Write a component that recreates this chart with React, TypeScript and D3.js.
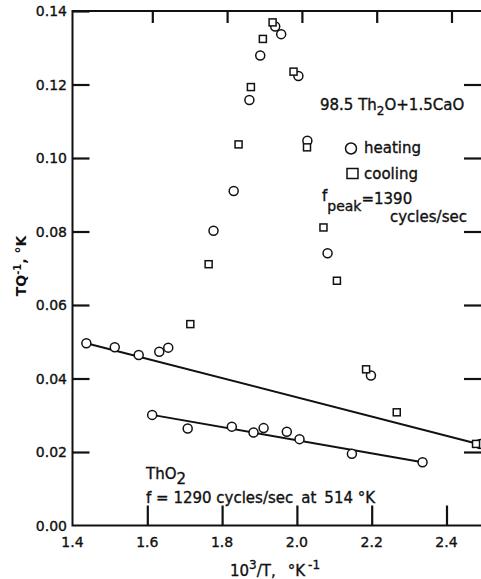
import { useEffect, useRef } from 'react'
import * as d3 from 'd3'

// 98.5 ThO2 + 1.5 CaO, heating (circles)
const heatingX = [1.437, 1.513, 1.577, 1.632, 1.656, 1.777, 1.831, 1.873, 1.902, 1.942, 1.958, 2.004, 2.028, 2.082, 2.198, 2.49]
const heatingY = [0.0496, 0.0485, 0.0464, 0.0473, 0.0484, 0.0802, 0.091, 0.1158, 0.1279, 0.1358, 0.1337, 0.1223, 0.1047, 0.0741, 0.0408, 0.0222]

// 98.5 ThO2 + 1.5 CaO, cooling (squares)
const coolingX = [1.715, 1.764, 1.844, 1.877, 1.909, 1.935, 1.991, 2.027, 2.071, 2.107, 2.185, 2.267, 2.479]
const coolingY = [0.0548, 0.0711, 0.1037, 0.1193, 0.1324, 0.1369, 0.1235, 0.1029, 0.0811, 0.0666, 0.0425, 0.0308, 0.0222]

// pure ThO2 (circles)
const thoX = [1.613, 1.708, 1.826, 1.884, 1.911, 1.973, 2.007, 2.147, 2.336]
const thoY = [0.0301, 0.0264, 0.0269, 0.0253, 0.0265, 0.0255, 0.0235, 0.0195, 0.0172]

// background lines (end points)
const upperLineX = [1.437, 2.485]
const upperLineY = [0.0496, 0.0222]
const lowerLineX = [1.613, 2.336]
const lowerLineY = [0.0301, 0.0172]

const xTicks = [1.4, 1.6, 1.8, 2.0, 2.2, 2.4]
const yTicks = [0, 0.02, 0.04, 0.06, 0.08, 0.1, 0.12, 0.14]

export default function App() {
  const svgRef = useRef<SVGSVGElement>(null)

  useEffect(() => {
    if (!svgRef.current) return
    const width = 481
    const height = 579
    const font = "'DejaVu Sans', sans-serif"
    const ink = '#111'

    const svg = d3.select(svgRef.current)
    svg.selectAll('*').remove()
    svg.attr('width', width).attr('height', height)

    const x = d3.scaleLinear().domain([1.4, 2.5]).range([72.5, 72.5 + 1.1 * 374])
    const y = d3.scaleLinear().domain([0, 0.14]).range([525.5, 11])
    const [x0, x1] = x.range()
    const [y0, y1] = y.range()

    // frame
    svg.append('path')
      .attr('d', `M${x1},${y1}H${x0}V${y0}H${x1}`)
      .attr('fill', 'none').attr('stroke', ink).attr('stroke-width', 2)

    // ticks drawn with d3 axes (inward, no labels)
    svg.append('g').attr('transform', `translate(0,${y0})`)
      .call(d3.axisTop(x).tickValues(xTicks.slice(1)).tickSize(20).tickFormat(() => ''))
    svg.append('g').attr('transform', `translate(5,${y1})`)
      .call(d3.axisBottom(x).tickValues(xTicks.slice(1)).tickSize(12).tickFormat(() => ''))
    svg.append('g').attr('transform', `translate(${x0},0)`)
      .call(d3.axisRight(y).tickValues(yTicks.slice(1)).tickSize(17).tickFormat(() => ''))
    svg.append('g').attr('transform', `translate(${width},0)`)
      .call(d3.axisLeft(y).tickValues(yTicks.slice(1, -1)).tickSize(17).tickFormat(() => ''))
    svg.selectAll('.domain').remove()
    svg.selectAll('.tick line').attr('stroke', ink).attr('stroke-width', 2.2)

    const textStyle = (sel: d3.Selection<SVGTextElement, any, any, any>, size: number) =>
      sel.style('font-family', font).style('font-size', `${size}px`)
        .style('fill', ink).style('stroke', ink).style('stroke-width', 0.35)

    // tick labels
    svg.selectAll('.ylab').data(yTicks).enter().append('text')
      .attr('x', 67).attr('y', d => y(d) + 5)
      .attr('text-anchor', 'end')
      .call(s => textStyle(s, 14))
      .text(d => d3.format('.2f')(d))
    svg.selectAll('.xlab').data(xTicks).enter().append('text')
      .attr('x', d => x(d)).attr('y', 547)
      .attr('text-anchor', 'middle')
      .call(s => textStyle(s, 14))
      .text(d => d3.format('.1f')(d))

    // axis titles
    const yt = svg.append('text')
      .attr('transform', 'translate(26,266) rotate(-90)')
      .attr('text-anchor', 'middle')
      .style('font-family', font).style('font-size', '14px').style('font-weight', 'bold').style('fill', ink)
    yt.append('tspan').text('TQ')
    yt.append('tspan').attr('dy', -5).style('font-size', '10px').text('-1')
    yt.append('tspan').attr('dy', 5).text(', °K')

    const xt = svg.append('text')
      .attr('x', 275).attr('y', 576)
      .attr('text-anchor', 'middle')
      .call(s => textStyle(s, 15))
    xt.append('tspan').text('10')
    xt.append('tspan').attr('dy', -7).style('font-size', '12px').text('3')
    xt.append('tspan').attr('dy', 7).text('/T,')
    xt.append('tspan').attr('dx', 12).text('°K')
    xt.append('tspan').attr('dx', 3).attr('dy', -7).style('font-size', '12px').text('-1')

    // lines
    const drawLine = (xs: number[], ys: number[]) => {
      svg.append('path')
        .attr('d', d3.line<number>().x(d => x(xs[d])).y(d => y(ys[d]))(xs.map((_, i) => i)))
        .attr('fill', 'none').attr('stroke', ink).attr('stroke-width', 2)
    }
    drawLine(upperLineX, upperLineY)
    drawLine(lowerLineX, lowerLineY)

    // markers
    const drawCircles = (xs: number[], ys: number[]) => {
      svg.append('g').selectAll('circle').data(xs).enter().append('circle')
        .attr('cx', d => x(d)).attr('cy', (d, i) => y(ys[i])).attr('r', 4.5)
        .attr('fill', 'white').attr('stroke', ink).attr('stroke-width', 1.5)
    }
    drawCircles(heatingX, heatingY)
    drawCircles(thoX, thoY)
    svg.append('g').selectAll('rect').data(coolingX).enter().append('rect')
      .attr('x', d => x(d) - 3.5).attr('y', (d, i) => y(coolingY[i]) - 3.5)
      .attr('width', 7).attr('height', 7)
      .attr('fill', 'white').attr('stroke', ink).attr('stroke-width', 1.5)

    // annotations
    const txt = (px: number, py: number, size = 14) =>
      svg.append('text').attr('x', px).attr('y', py).call(s => textStyle(s, size))

    const t1 = txt(320, 110, 15)
    t1.append('tspan').text('98.5 Th')
    t1.append('tspan').attr('dy', 5).style('font-size', '12px').text('2')
    t1.append('tspan').attr('dy', -5).text('O+1.5CaO')

    svg.append('circle').attr('cx', 351).attr('cy', 148.5).attr('r', 5.5)
      .attr('fill', 'none').attr('stroke', ink).attr('stroke-width', 1.5)
    txt(364, 153, 15).text('heating')
    svg.append('rect').attr('x', 347).attr('y', 168.5).attr('width', 11).attr('height', 10)
      .attr('fill', 'none').attr('stroke', ink).attr('stroke-width', 1.5)
    txt(364, 179, 15).text('cooling')

    const t2 = txt(322, 201, 15)
    t2.append('tspan').text('f')
    t2.append('tspan').attr('dy', 10).style('font-size', '14px').text('peak')
    t2.append('tspan').attr('dy', -7).text('=1390')
    txt(390, 222, 15).text('cycles/sec')

    const t3 = txt(146, 479, 15)
    t3.append('tspan').text('ThO')
    t3.append('tspan').attr('dy', 5).text('2')
    const t4 = txt(146, 503, 15)
    t4.append('tspan').text('f = 1290 cycles/sec')
    t4.append('tspan').attr('dx', 8).text('at')
    t4.append('tspan').attr('dx', 8).text('514 °K')
  }, [])

  return (
    <svg ref={svgRef} style={{ position: 'absolute', left: 0, top: 0, background: 'white' }}></svg>
  )
}
